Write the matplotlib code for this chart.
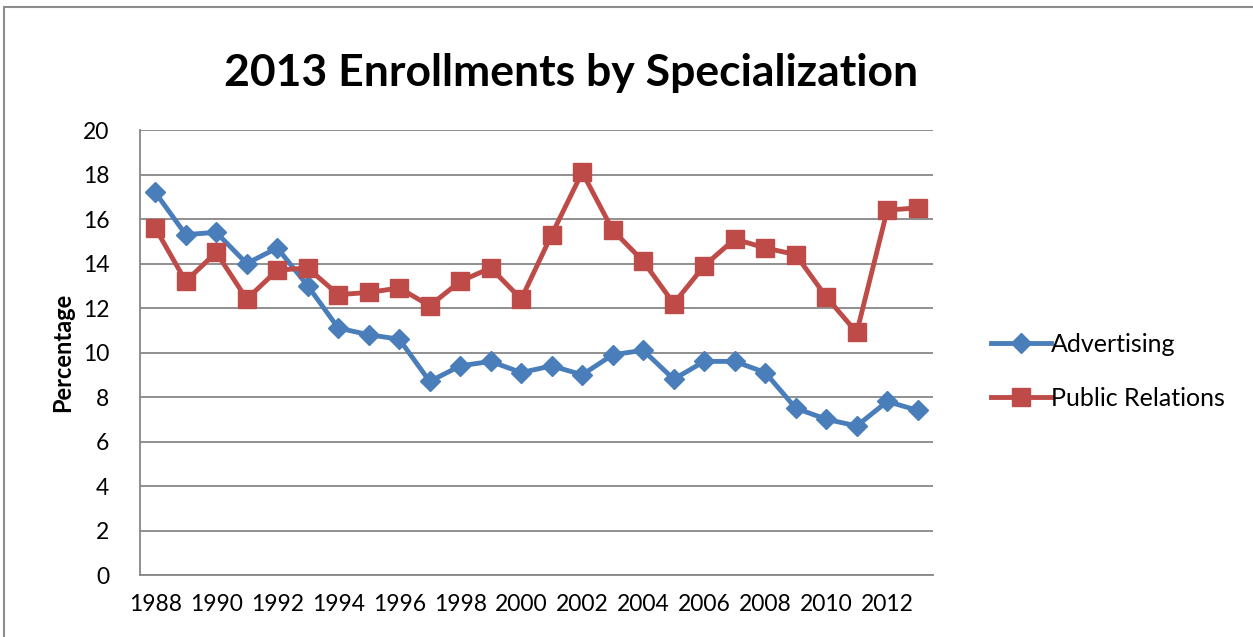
import matplotlib
matplotlib.use('Agg')
import matplotlib.pyplot as plt
from matplotlib.patches import Rectangle

years = list(range(1988, 2014))
advertising = [17.2, 15.3, 15.4, 14.0, 14.7, 13.0, 11.1, 10.8, 10.6, 8.7, 9.4, 9.6, 9.1,
               9.4, 9.0, 9.9, 10.1, 8.8, 9.6, 9.6, 9.1, 7.5, 7.0, 6.7, 7.8, 7.4]
public_relations = [15.6, 13.2, 14.5, 12.4, 13.7, 13.8, 12.6, 12.7, 12.9, 12.1, 13.2, 13.8, 12.4,
                    15.3, 18.1, 15.5, 14.1, 12.2, 13.9, 15.1, 14.7, 14.4, 12.5, 10.9, 16.4, 16.5]

plt.rcParams['font.family'] = ['Lato', 'DejaVu Sans']

fig = plt.figure(figsize=(12.53, 6.37), dpi=100)
fig.patches.append(Rectangle((4 / 1253, -0.1), 1.2, 1 - 7 / 637 + 0.1, transform=fig.transFigure,
                             fill=False, edgecolor='#8c8c8c', linewidth=1.5))

ax = fig.add_axes([0.1117, 0.0973, 0.6329, 0.6986])
x = list(range(len(years)))
ax.plot(x, advertising, color='#4A7EBB', linewidth=3.5, marker='D', markersize=10,
        label='Advertising')
ax.plot(x, public_relations, color='#BE4B48', linewidth=3.5, marker='s', markersize=13,
        label='Public Relations')

ax.set_xlim(-0.5, len(years) - 0.5)
ax.set_ylim(0, 20)
ax.set_yticks(range(0, 21, 2))
ax.set_xticks(x[::2])
ax.set_xticklabels([str(y) for y in years[::2]])
ax.tick_params(axis='x', length=0, labelsize=16.5, pad=14)
ax.tick_params(axis='y', length=0, labelsize=16.5, pad=22)
ax.grid(axis='y', color='#878787', linewidth=1.3)
ax.set_axisbelow(True)
for s in ['top', 'right']:
    ax.spines[s].set_visible(False)
for s in ['left', 'bottom']:
    ax.spines[s].set_color('#878787')
    ax.spines[s].set_linewidth(1.3)

ax.set_ylabel('Percentage', fontsize=17, fontweight='bold', labelpad=6)
fig.text(0.456, 0.885, '2013 Enrollments by Specialization', fontsize=32, fontweight='bold',
         ha='center', va='center')

ax.legend(loc='center left', bbox_to_anchor=(1.045, 0.458), frameon=False, fontsize=18,
          handlelength=2.4, handletextpad=0.0, labelspacing=1.25)

fig.savefig('out.png', dpi=100)
